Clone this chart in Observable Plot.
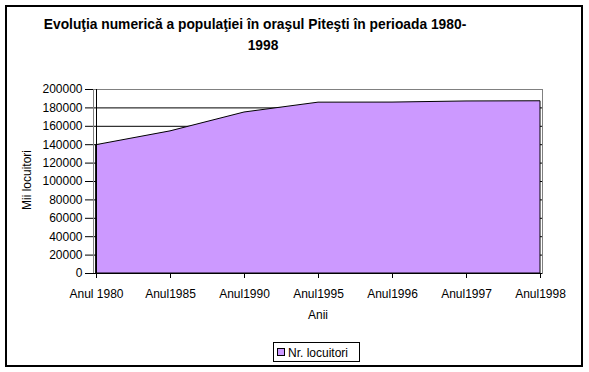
<!DOCTYPE html>
<html>
<head>
<meta charset="utf-8">
<script src="https://cdn.jsdelivr.net/npm/d3@7"></script>
<script src="https://cdn.jsdelivr.net/npm/@observablehq/plot@0.6"></script>
<style>
  html, body { margin: 0; padding: 0; background: #fff; }
  #chart { position: relative; width: 589px; height: 372px; }
</style>
</head>
<body>
<div id="chart"></div>
<script>
const titleLines = ["Evoluţia numerică a populaţiei în oraşul Piteşti în perioada 1980-", "1998"];
const categories = ["Anul 1980", "Anul1985", "Anul1990", "Anul1995", "Anul1996", "Anul1997", "Anul1998"];
const values = [139500, 154500, 175000, 185700, 185800, 187000, 187200];
const yTicks = [0, 20000, 40000, 60000, 80000, 100000, 120000, 140000, 160000, 180000, 200000];
const seriesName = "Nr. locuitori";
const xTitle = "Anii";
const yTitle = "Mii locuitori";

const data = categories.map((c, i) => ({ an: c, v: values[i] }));
const fill = "#CC99FF";

const svg = Plot.plot({
  width: 589,
  height: 372,
  marginLeft: 93,
  marginRight: 47,
  marginTop: 89,
  marginBottom: 99,
  style: { fontFamily: "'Liberation Sans', Arial, sans-serif", fontSize: "12px", color: "black", background: "white", overflow: "visible" },
  x: { type: "point", domain: categories, padding: 0, label: null },
  y: { domain: [0, 200000], label: null },
  marks: [
    Plot.gridY(yTicks.filter(d => d < 200000), { stroke: "black", strokeOpacity: 1 }),
    Plot.frame({ stroke: "#808080" }),
    Plot.areaY(data, { x: "an", y: "v", fill: fill, stroke: "black", strokeWidth: 1 }),
    Plot.ruleX([categories[0]], { stroke: "black" }),
    Plot.ruleY([0], { stroke: "black" }),
    Plot.axisY({ ticks: yTicks, tickSize: 8, tickPadding: 3, tickFormat: d => String(d), fontSize: 12, label: null }),
    Plot.axisX({ tickSize: 5, tickPadding: 11, fontSize: 12, label: null })
  ]
});

const s = d3.select(svg);
const font = "'Liberation Sans', Arial, sans-serif";
// border
s.append("rect").attr("x", 6).attr("y", 6).attr("width", 576).attr("height", 360)
  .attr("fill", "none").attr("stroke", "black").attr("stroke-width", 2);
// title
s.append("text").attr("x", 255).attr("y", 29).attr("text-anchor", "middle")
  .attr("font-family", font).attr("font-size", 13.8).attr("font-weight", "bold").attr("fill", "black").text(titleLines[0]);
s.append("text").attr("x", 263).attr("y", 50).attr("text-anchor", "middle")
  .attr("font-family", font).attr("font-size", 13.8).attr("font-weight", "bold").attr("fill", "black").text(titleLines[1]);
// axis titles
s.append("text").attr("x", 318).attr("y", 319).attr("text-anchor", "middle")
  .attr("font-family", font).attr("font-size", 12).attr("fill", "black").text(xTitle);
s.append("text").attr("transform", "translate(31,180) rotate(-90)").attr("text-anchor", "middle")
  .attr("font-family", font).attr("font-size", 12).attr("fill", "black").text(yTitle);
// legend
s.append("rect").attr("x", 273.5).attr("y", 342.5).attr("width", 86).attr("height", 19)
  .attr("fill", "white").attr("stroke", "black");
s.append("rect").attr("x", 277.5).attr("y", 348.5).attr("width", 7).attr("height", 7)
  .attr("fill", fill).attr("stroke", "black");
s.append("text").attr("x", 288).attr("y", 356.5).attr("text-anchor", "start")
  .attr("font-family", font).attr("font-size", 12).attr("fill", "black").text(seriesName);

document.getElementById("chart").appendChild(svg);
</script>
</body>
</html>
